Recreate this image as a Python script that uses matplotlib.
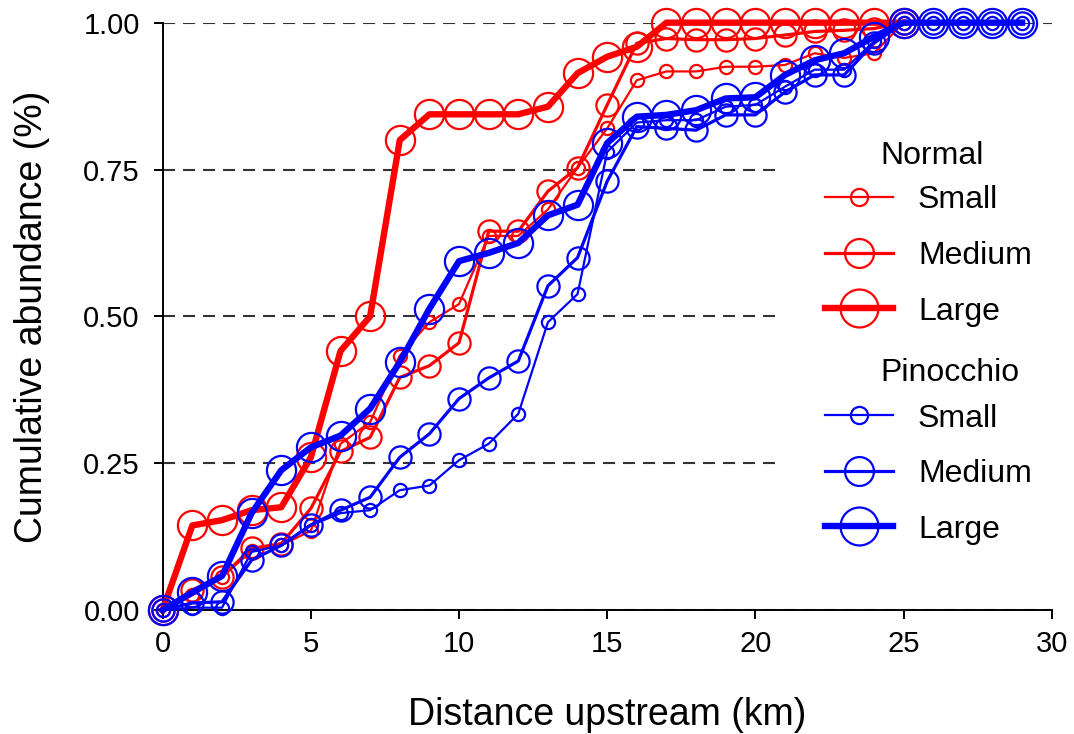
import matplotlib
matplotlib.use("Agg")
import matplotlib.pyplot as plt
from matplotlib.patches import Rectangle
from matplotlib.ticker import FormatStrFormatter

plt.rcParams["font.family"] = ["Liberation Sans", "DejaVu Sans"]

# Distance upstream (km)
km_normal = list(range(0, 26))
km_pinocchio = list(range(0, 30))

# Cumulative abundance, Normal morph
normal_small = [0.0, 0.025, 0.057, 0.10, 0.11, 0.135, 0.283, 0.32, 0.433, 0.49,
                0.521, 0.637, 0.637, 0.682, 0.753, 0.82, 0.902, 0.917, 0.917, 0.925,
                0.925, 0.928, 0.948, 0.94, 0.948, 1.0]
normal_medium = [0.0, 0.034, 0.057, 0.105, 0.113, 0.173, 0.27, 0.294, 0.396, 0.416,
                 0.455, 0.645, 0.645, 0.713, 0.753, 0.86, 0.965, 0.973, 0.971, 0.971,
                 0.973, 0.979, 0.985, 0.987, 0.99, 1.0]
normal_large = [0.0, 0.144, 0.153, 0.170, 0.175, 0.26, 0.441, 0.50, 0.80, 0.844,
                0.844, 0.844, 0.844, 0.857, 0.914, 0.942, 0.959, 1.0, 1.0, 1.0,
                1.0, 1.0, 1.0, 1.0, 1.0, 1.0]

# Cumulative abundance, Pinocchio morph
pinocchio_small = [0.0, 0.004, 0.004, 0.099, 0.11, 0.144, 0.165, 0.17, 0.204, 0.212,
                   0.255, 0.283, 0.334, 0.49, 0.538, 0.78, 0.83, 0.834, 0.834, 0.857,
                   0.86, 0.891, 0.92, 0.92, 0.968, 1.0, 1.0, 1.0, 1.0, 1.0]
pinocchio_medium = [0.0, 0.012, 0.014, 0.085, 0.11, 0.145, 0.17, 0.192, 0.26, 0.30,
                    0.36, 0.395, 0.424, 0.552, 0.60, 0.73, 0.823, 0.82, 0.817, 0.843,
                    0.843, 0.882, 0.911, 0.911, 0.965, 1.0, 1.0, 1.0, 1.0, 1.0]
pinocchio_large = [0.0, 0.03, 0.058, 0.165, 0.238, 0.277, 0.297, 0.343, 0.422, 0.513,
                   0.594, 0.608, 0.625, 0.672, 0.69, 0.795, 0.840, 0.843, 0.851, 0.871,
                   0.873, 0.911, 0.936, 0.948, 0.976, 1.0, 1.0, 1.0, 1.0, 1.0]

size_labels = ["Small", "Medium", "Large"]
group_labels = ["Normal", "Pinocchio"]
x_ticks = [0, 5, 10, 15, 20, 25, 30]
y_ticks = [0.0, 0.25, 0.5, 0.75, 1.0]

RED = "#ff0000"
BLUE = "#0000ff"
line_widths = [1.6, 2.3, 4.6]
marker_sizes = [9.5, 16, 21]

fig = plt.figure(figsize=(10.74, 7.34), dpi=100)
ax = fig.add_axes([0.1515, 0.1689, 0.8277, 0.8002])

handles = []
for color, xs, series in [
    (RED, km_normal, [normal_small, normal_medium, normal_large]),
    (BLUE, km_pinocchio, [pinocchio_small, pinocchio_medium, pinocchio_large]),
]:
    for ys, lw, ms in zip(series, line_widths, marker_sizes):
        (ln,) = ax.plot(xs, ys, color=color, lw=lw, marker="o", ms=ms,
                        mfc="none", mec=color, mew=1.6, clip_on=False, zorder=3)
        handles.append(ln)

ax.set_xlim(0, 30)
ax.set_ylim(0, 1)
ax.set_xticks(x_ticks)
ax.set_yticks(y_ticks)
ax.yaxis.set_major_formatter(FormatStrFormatter("%.2f"))

for side in ("top", "right"):
    ax.spines[side].set_visible(False)
for side in ("left", "bottom"):
    ax.spines[side].set_linewidth(1.4)
ax.tick_params(axis="both", direction="out", length=6.5, width=1.4,
               labelsize=21, colors="black")
ax.tick_params(axis="x", pad=8)
ax.tick_params(axis="y", pad=10)

ax.set_axisbelow(True)
ax.yaxis.grid(True, color="#333333", lw=1.5, linestyle=(0, (5.8, 3.8)))
ax.xaxis.grid(False)

ax.set_xlabel("Distance upstream (km)", fontsize=27, labelpad=28)
ax.set_ylabel("Cumulative abundance (%)", fontsize=27, labelpad=24)

# White panel behind the legend blocks
ax.add_patch(Rectangle((0.689, 0.085), 0.35, 0.741, transform=ax.transAxes,
                       facecolor="white", edgecolor="none", zorder=1,
                       clip_on=False))

legend_kw = dict(loc="upper left", frameon=False, fontsize=23,
                 handlelength=2.13, handletextpad=0.78, labelspacing=0.8,
                 markerscale=1.3, borderpad=0, borderaxespad=0)
leg1 = ax.legend(handles[:3], size_labels, bbox_to_anchor=(0.745, 0.7228),
                 **legend_kw)
ax.add_artist(leg1)
leg2 = ax.legend(handles[3:], size_labels, bbox_to_anchor=(0.745, 0.3516),
                 **legend_kw)

ax.text(0.807, 0.773, group_labels[0], transform=ax.transAxes, fontsize=23,
        ha="left", va="center", zorder=6)
ax.text(0.807, 0.404, group_labels[1], transform=ax.transAxes, fontsize=23,
        ha="left", va="center", zorder=6)

fig.savefig("out.png", dpi=100)
